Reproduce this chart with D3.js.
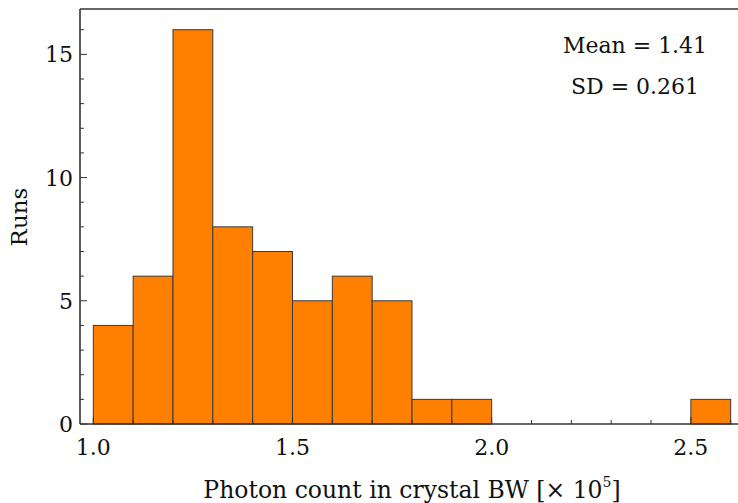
<!DOCTYPE html>
<html><head><meta charset="utf-8">
<script src="https://cdn.jsdelivr.net/npm/d3@7"></script>
<style>body{margin:0;background:#fff}svg{display:block}</style>
</head><body>
<svg id="c" width="738" height="503"></svg>
<script>
const binStarts = [1.0,1.1,1.2,1.3,1.4,1.5,1.6,1.7,1.8,1.9,2.0,2.1,2.2,2.3,2.4,2.5];
const counts    = [4,  6,  16, 8,  7,  5,  6,  5,  1,  1,  0,  0,  0,  0,  0,  1];
const binWidth = 0.1;
const xTicks = [1.0,1.5,2.0,2.5];
const yTicks = [0,5,10,15];
const statsText = ["Mean = 1.41","SD = 0.261"];

const svg = d3.select("#c");
const L=80, T=9, B=424, R=744;
const x = d3.scaleLinear().domain([0.9666,2.6334]).range([L,R]);
const y = d3.scaleLinear().domain([0,16.84]).range([B,T]);
const font = "'DejaVu Serif', serif";
const fs = 22;
const ink = "#333";

// bars
svg.append("g").selectAll("rect").data(binStarts.map((s,i)=>({s,c:counts[i]})).filter(d=>d.c>0))
  .join("rect")
  .attr("x",d=>x(d.s)).attr("width",d=>x(d.s+binWidth)-x(d.s))
  .attr("y",d=>y(d.c)).attr("height",d=>y(0)-y(d.c))
  .attr("fill","#ff7f00").attr("stroke","#3a3a3a").attr("stroke-width",1);

// minor ticks
const xMinor = d3.range(10,27).map(v=>v/10);
svg.append("g").selectAll("line").data(xMinor).join("line")
  .attr("x1",d=>x(d)).attr("x2",d=>x(d)).attr("y1",B).attr("y2",d=>B-(xTicks.some(t=>Math.abs(t-d)<1e-9)?7:4))
  .attr("stroke",ink).attr("stroke-width",1);
const yMinor = d3.range(0,17);
svg.append("g").selectAll("line").data(yMinor).join("line")
  .attr("y1",d=>y(d)).attr("y2",d=>y(d)).attr("x1",L).attr("x2",d=>L+(yTicks.includes(d)?7:4))
  .attr("stroke",ink).attr("stroke-width",1);

// frame
svg.append("line").attr("x1",L).attr("x2",R).attr("y1",B).attr("y2",B).attr("stroke",ink).attr("stroke-width",1.6);
svg.append("line").attr("x1",L).attr("x2",R).attr("y1",T).attr("y2",T).attr("stroke",ink).attr("stroke-width",1.6);
svg.append("line").attr("x1",L).attr("x2",L).attr("y1",T).attr("y2",B).attr("stroke",ink).attr("stroke-width",1.6);

// tick labels
svg.append("g").selectAll("text").data(xTicks).join("text")
  .attr("x",d=>x(d)).attr("y",B+31).attr("text-anchor","middle")
  .attr("font-family",font).attr("font-size",fs).attr("fill","#111")
  .text(d=>d.toFixed(1));
svg.append("g").selectAll("text").data(yTicks).join("text")
  .attr("x",L-7).attr("y",d=>y(d)+8).attr("text-anchor","end")
  .attr("font-family",font).attr("font-size",fs).attr("fill","#111")
  .text(d=>d);

// axis titles
const xt = svg.append("text").attr("x",412).attr("y",498).attr("text-anchor","middle")
  .attr("font-family",font).attr("font-size",23.5).attr("fill","#111");
xt.append("tspan").text("Photon count in crystal BW [× 10");
xt.append("tspan").attr("font-size",14).attr("dy",-11).text("5");
xt.append("tspan").attr("dy",11).text("]");
svg.append("text").attr("transform","translate(27,217) rotate(-90)").attr("text-anchor","middle")
  .attr("font-family",font).attr("font-size",23).attr("fill","#111").text("Runs");

// stats
svg.append("g").selectAll("text").data(statsText).join("text")
  .attr("x",635).attr("y",(d,i)=>53+i*41).attr("text-anchor","middle")
  .attr("font-family",font).attr("font-size",fs).attr("fill","#111").text(d=>d);
</script>
</body></html>
